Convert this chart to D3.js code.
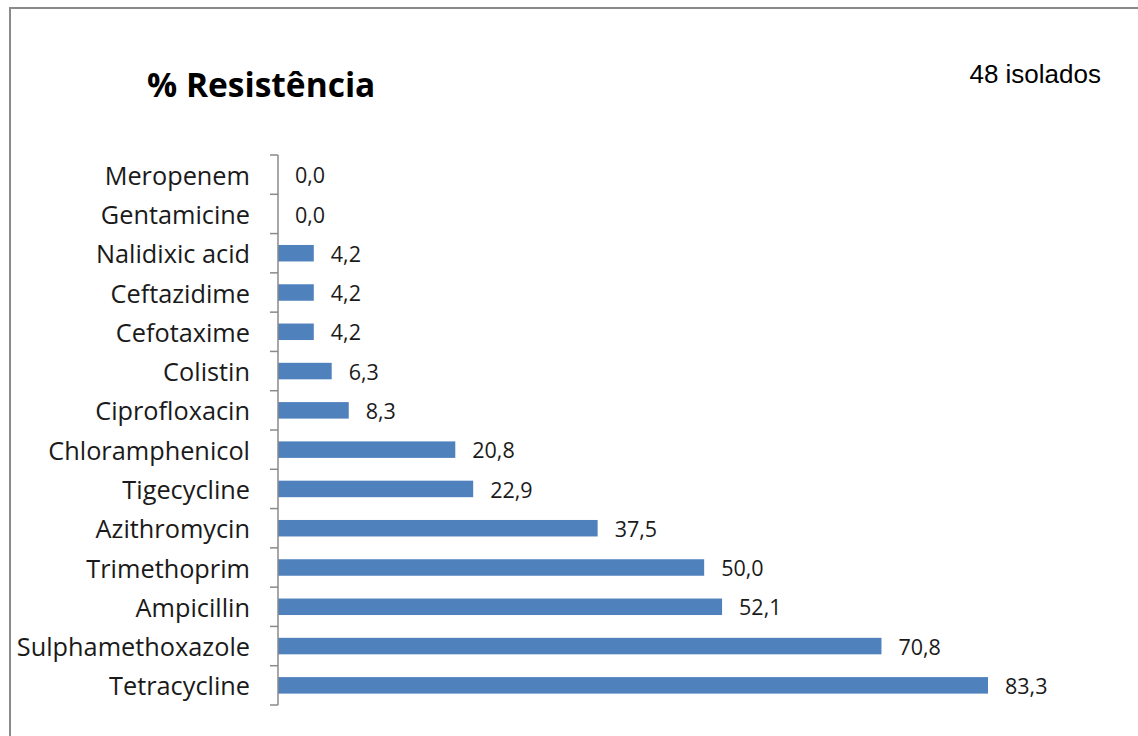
<!DOCTYPE html>
<html>
<head>
<meta charset="utf-8">
<script src="https://cdn.jsdelivr.net/npm/d3@7"></script>
<style>
  body { margin: 0; background: #fff; }
</style>
</head>
<body>
<div id="chart"></div>
<script>
// data, top to bottom
const antibiotics = ["Meropenem", "Gentamicine", "Nalidixic acid", "Ceftazidime", "Cefotaxime",
	"Colistin", "Ciprofloxacin", "Chloramphenicol", "Tigecycline", "Azithromycin",
	"Trimethoprim", "Ampicillin", "Sulphamethoxazole", "Tetracycline"];
const resistance = [0.0, 0.0, 4.2, 4.2, 4.2, 6.3, 8.3, 20.8, 22.9, 37.5, 50.0, 52.1, 70.8, 83.3];
const chartTitle = "% Resistência";
const sampleNote = "48 isolados";

const outerWidth = 1138;
const outerHeight = 736;
const margin = { top: 155, right: 150, bottom: 31, left: 278 };
const width = outerWidth - margin.left - margin.right;
const height = outerHeight - margin.top - margin.bottom;

const svg = d3.select("#chart").append("svg")
	.attr("width", outerWidth)
	.attr("height", outerHeight);

// outer frame
svg.append("rect")
	.attr("x", 10).attr("y", 8)
	.attr("width", outerWidth + 20).attr("height", outerHeight + 20)
	.attr("fill", "none")
	.attr("stroke", "#8a8a8a")
	.attr("stroke-width", 2);

svg.append("text")
	.attr("x", 147).attr("y", 97)
	.style("font-family", "'Open Sans', sans-serif")
	.style("font-weight", "bold")
	.style("font-size", "33.5px")
	.style("fill", "#000")
	.text(chartTitle);

svg.append("text")
	.attr("x", 1101).attr("y", 83)
	.attr("text-anchor", "end")
	.style("font-family", "'Liberation Sans', Arial, sans-serif")
	.style("font-size", "26px")
	.style("fill", "#000")
	.text(sampleNote);

const g = svg.append("g")
	.attr("transform", `translate(${margin.left}, ${margin.top})`);

const data = antibiotics.map((name, i) => ({ name, value: resistance[i] }));

const x = d3.scaleLinear()
	.domain([0, 83.3])
	.range([0, 710]);

const y = d3.scaleBand()
	.domain(antibiotics)
	.range([0, height])
	.paddingInner(0.58)
	.paddingOuter(0.29);

g.selectAll("rect.bar")
	.data(data)
	.enter()
	.append("rect")
	.attr("class", "bar")
	.attr("x", 0)
	.attr("y", d => y(d.name))
	.attr("width", d => x(d.value))
	.attr("height", y.bandwidth())
	.style("fill", "#4f81bd");

g.selectAll("text.value")
	.data(data)
	.enter()
	.append("text")
	.attr("class", "value")
	.attr("x", d => x(d.value) + 17)
	.attr("y", d => y(d.name) + y.bandwidth() / 2)
	.attr("dy", "0.4em")
	.style("font-family", "'Open Sans', sans-serif")
	.style("font-size", "21.5px")
	.style("fill", "#1a1a1a")
	.text(d => d3.format(".1f")(d.value).replace(".", ","));

// category axis with ticks between bands
const axis = g.append("g");
axis.append("line")
	.attr("x1", 0).attr("x2", 0)
	.attr("y1", 0).attr("y2", height)
	.attr("stroke", "#8a8a8a")
	.attr("stroke-width", 1.5);

const edges = d3.range(antibiotics.length + 1).map(i => i * height / antibiotics.length);
axis.selectAll("line.tick")
	.data(edges)
	.enter()
	.append("line")
	.attr("class", "tick")
	.attr("x1", -8).attr("x2", 0)
	.attr("y1", d => d).attr("y2", d => d)
	.attr("stroke", "#8a8a8a")
	.attr("stroke-width", 1.5);

axis.selectAll("text.label")
	.data(antibiotics)
	.enter()
	.append("text")
	.attr("class", "label")
	.attr("x", -28)
	.attr("y", d => y(d) + y.bandwidth() / 2)
	.attr("dy", "0.4em")
	.attr("text-anchor", "end")
	.style("font-family", "'Open Sans', sans-serif")
	.style("font-size", "25.3px")
	.style("fill", "#1a1a1a")
	.text(d => d);
</script>
</body>
</html>
